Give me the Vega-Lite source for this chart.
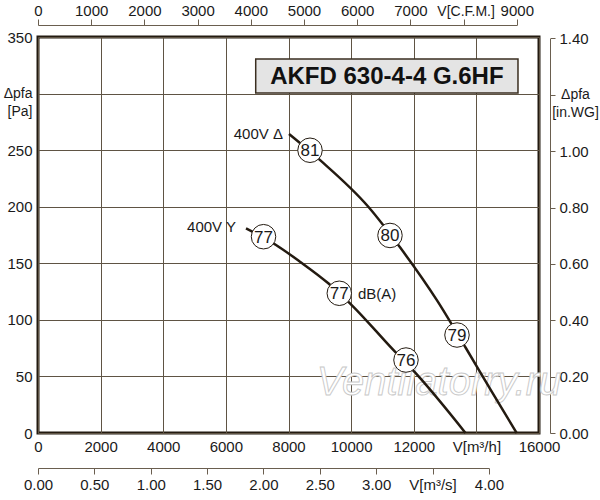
{
  "$schema": "https://vega.github.io/schema/vega-lite/v6.json",
  "width": 501,
  "height": 396,
  "autosize": "none",
  "padding": {"left": 38, "top": 37, "right": 61, "bottom": 67},
  "background": "white",
  "config": {
    "font": "Liberation Sans",
    "view": {"stroke": "#231a10", "strokeWidth": 3},
    "axis": {
      "labelFont": "Liberation Sans",
      "labelFontSize": 15,
      "labelColor": "#1a1a1a",
      "domainColor": "#6a5e4f",
      "tickColor": "#6a5e4f",
      "domainWidth": 1,
      "tickWidth": 1,
      "gridColor": "#5f5444",
      "gridWidth": 1,
      "gridOpacity": 1,
      "labelOverlap": false,
      "labelFlush": false,
      "title": null
    }
  },
  "datasets": {
    "curves": [
      {"series": "400V Δ", "flow": 8016, "pa": 264.3},
      {"series": "400V Δ", "flow": 9028, "pa": 240.7},
      {"series": "400V Δ", "flow": 10549, "pa": 200.0},
      {"series": "400V Δ", "flow": 11561, "pa": 164.1},
      {"series": "400V Δ", "flow": 12733, "pa": 117.6},
      {"series": "400V Δ", "flow": 13669, "pa": 74.9},
      {"series": "400V Δ", "flow": 14467, "pa": 37.7},
      {"series": "400V Δ", "flow": 15288, "pa": 0},
      {"series": "400V Y", "flow": 6643, "pa": 180.9},
      {"series": "400V Y", "flow": 7601, "pa": 166.2},
      {"series": "400V Y", "flow": 8367, "pa": 151.4},
      {"series": "400V Y", "flow": 9271, "pa": 132.3},
      {"series": "400V Y", "flow": 10018, "pa": 113.1},
      {"series": "400V Y", "flow": 11347, "pa": 73.4},
      {"series": "400V Y", "flow": 12040, "pa": 53.5},
      {"series": "400V Y", "flow": 13653, "pa": 0}
    ],
    "markers": [
      {"series": "400V Δ", "flow": 8687, "pa": 249.9, "db": "81"},
      {"series": "400V Δ", "flow": 11241, "pa": 174.6, "db": "80"},
      {"series": "400V Δ", "flow": 13381, "pa": 86.6, "db": "79"},
      {"series": "400V Y", "flow": 7202, "pa": 173.5, "db": "77"},
      {"series": "400V Y", "flow": 9622, "pa": 123.5, "db": "77"},
      {"series": "400V Y", "flow": 11752, "pa": 64.5, "db": "76"}
    ],
    "seriesLabels": [
      {"label": "400V Δ", "flow": 7824, "pa": 264.3},
      {"label": "400V Y", "flow": 6323, "pa": 181.8}
    ],
    "unitLabel": [
      {"label": "dB(A)", "flow": 10220, "pa": 122.9}
    ],
    "titleBox": [
      {"label": "AKFD 630-4-4 G.6HF", "flow": 6953, "flow2": 15329, "pa": 300.5, "pa2": 330.5, "flowc": 11142, "pac": 315.5}
    ],
    "watermark": [
      {"label": "Ventilatorry.ru", "flow": 12806, "pa": 44.2}
    ],
    "cfmAxis": [{"cfm": 0}, {"cfm": 9000}],
    "m3sAxis": [{"m3s": 0}, {"m3s": 4}],
    "inwgAxis": [{"inwg": 0}, {"inwg": 1.4}]
  },
  "layer": [
    {
      "layer": [
        {
          "data": {"name": "watermark"},
          "mark": {"type": "text", "font": "Liberation Sans", "fontStyle": "italic", "fontSize": 40, "fill": "white", "stroke": "#c8c8c8", "strokeWidth": 0.9, "align": "center", "baseline": "middle", "clip": false},
          "encoding": {
            "x": {"field": "flow", "type": "quantitative"},
            "y": {"field": "pa", "type": "quantitative"},
            "text": {"field": "label"}
          }
        },
        {
          "data": {"name": "curves"},
          "mark": {"type": "line", "color": "#231a10", "strokeWidth": 2.5, "interpolate": "monotone"},
          "encoding": {
            "x": {
              "field": "flow", "type": "quantitative",
              "scale": {"domain": [0, 16000], "nice": false, "zero": true},
              "axis": {
                "orient": "bottom",
                "values": [0, 2000, 4000, 6000, 8000, 10000, 12000, 14000, 16000],
                "format": "d",
                "labelExpr": "datum.value == 14000 ? 'V[m³/h]' : datum.label",
                "ticks": false, "tickSize": 0, "domain": false,
                "grid": true,
                "labelPadding": 6
              }
            },
            "y": {
              "field": "pa", "type": "quantitative",
              "scale": {"domain": [0, 350], "nice": false, "zero": true},
              "axis": {
                "orient": "left",
                "values": [0, 50, 100, 150, 200, 250, 300, 350],
                "labelExpr": "datum.value == 300 ? ['Δpfa', '[Pa]'] : datum.label",
                "labelFontSize": {"condition": {"test": "datum.value == 300", "value": 14}, "value": 15},
                "labelLineHeight": 18,
                "ticks": false, "tickSize": 0, "domain": false,
                "grid": true,
                "labelPadding": 6
              }
            },
            "detail": {"field": "series"}
          }
        },
        {
          "data": {"name": "markers"},
          "mark": {"type": "point", "shape": "circle", "filled": true, "fill": "white", "stroke": "#231a10", "strokeWidth": 1, "size": 600, "opacity": 1},
          "encoding": {
            "x": {"field": "flow", "type": "quantitative"},
            "y": {"field": "pa", "type": "quantitative"}
          }
        },
        {
          "data": {"name": "markers"},
          "mark": {"type": "text", "fontSize": 17, "color": "#1a1a1a", "align": "center", "baseline": "middle", "dy": 1},
          "encoding": {
            "x": {"field": "flow", "type": "quantitative"},
            "y": {"field": "pa", "type": "quantitative"},
            "text": {"field": "db"}
          }
        },
        {
          "data": {"name": "seriesLabels"},
          "mark": {"type": "text", "fontSize": 15, "color": "#1a1a1a", "align": "right", "baseline": "middle"},
          "encoding": {
            "x": {"field": "flow", "type": "quantitative"},
            "y": {"field": "pa", "type": "quantitative"},
            "text": {"field": "label"}
          }
        },
        {
          "data": {"name": "unitLabel"},
          "mark": {"type": "text", "fontSize": 15, "color": "#1a1a1a", "align": "left", "baseline": "middle"},
          "encoding": {
            "x": {"field": "flow", "type": "quantitative"},
            "y": {"field": "pa", "type": "quantitative"},
            "text": {"field": "label"}
          }
        },
        {
          "data": {"name": "titleBox"},
          "mark": {"type": "rect", "fill": "#e4e4e4", "stroke": "#3a2e20", "strokeWidth": 1.5},
          "encoding": {
            "x": {"field": "flow", "type": "quantitative"},
            "x2": {"field": "flow2"},
            "y": {"field": "pa", "type": "quantitative"},
            "y2": {"field": "pa2"}
          }
        },
        {
          "data": {"name": "titleBox"},
          "mark": {"type": "text", "fontSize": 24, "fontWeight": "bold", "color": "#111111", "align": "center", "baseline": "middle", "dy": 1},
          "encoding": {
            "x": {"field": "flowc", "type": "quantitative"},
            "y": {"field": "pac", "type": "quantitative"},
            "text": {"field": "label"}
          }
        }
      ]
    },
    {
      "data": {"name": "cfmAxis"},
      "mark": {"type": "point", "opacity": 0},
      "encoding": {
        "x": {
          "field": "cfm", "type": "quantitative",
          "scale": {"domain": [0, 9000], "range": [0, 478.8], "nice": false, "zero": true},
          "axis": {
            "orient": "top", "offset": 12,
            "values": [0, 1000, 2000, 3000, 4000, 5000, 6000, 7000, 8000, 9000],
            "format": "d",
            "labelExpr": "datum.value == 8000 ? 'V[C.F.M.]' : datum.label",
            "labelFontSize": {"condition": {"test": "datum.value == 8000", "value": 14}, "value": 15},
            "labelOffset": {"condition": {"test": "datum.value == 8000", "value": 2}, "value": 0},
            "tickSize": 6, "domain": true, "grid": false,
            "labelPadding": 1
          }
        }
      }
    },
    {
      "data": {"name": "m3sAxis"},
      "mark": {"type": "point", "opacity": 0},
      "encoding": {
        "x": {
          "field": "m3s", "type": "quantitative",
          "scale": {"domain": [0, 4], "range": [0, 450.9], "nice": false, "zero": true},
          "axis": {
            "orient": "bottom", "offset": 35,
            "values": [0, 0.5, 1, 1.5, 2, 2.5, 3, 3.5, 4],
            "format": ".2f",
            "labelExpr": "datum.value == 3.5 ? 'V[m³/s]' : datum.label",
            "tickSize": 6, "domain": true, "grid": false,
            "labelPadding": 3
          }
        }
      }
    },
    {
      "data": {"name": "inwgAxis"},
      "mark": {"type": "point", "opacity": 0},
      "encoding": {
        "y": {
          "field": "inwg", "type": "quantitative",
          "scale": {"domain": [0, 1.4], "range": [396, 1.4], "nice": false, "zero": true},
          "axis": {
            "orient": "right", "offset": 11,
            "values": [0, 0.2, 0.4, 0.6, 0.8, 1, 1.2, 1.4],
            "format": ".2f",
            "labelExpr": "datum.value == 1.2 ? ['Δpfa', '[in.WG]'] : datum.label",
            "labelFontSize": {"condition": {"test": "datum.value == 1.2", "value": 14}, "value": 15},
            "labelAlign": {"condition": {"test": "datum.value == 1.2", "value": "center"}, "value": "left"},
            "labelPadding": {"condition": {"test": "datum.value == 1.2", "value": 20}, "value": 4},
            "labelLineHeight": 18,
            "tickSize": 5, "domain": true, "grid": false
          }
        }
      }
    }
  ],
  "resolve": {
    "scale": {"x": "independent", "y": "independent"},
    "axis": {"x": "independent", "y": "independent"}
  }
}
